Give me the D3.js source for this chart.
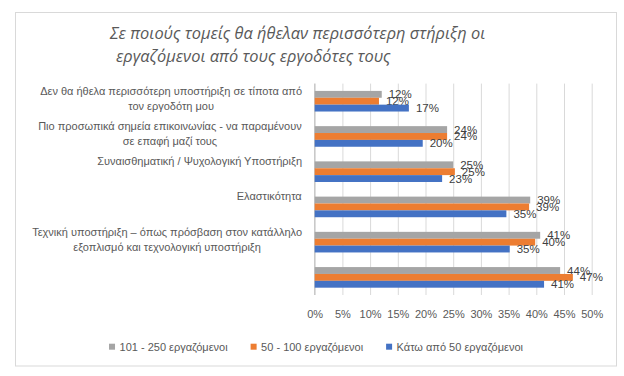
<!DOCTYPE html>
<html>
<head>
<meta charset="utf-8">
<script src="https://cdn.jsdelivr.net/npm/d3@7"></script>
<style>
  body { margin: 0; background: #fff; }
  text { font-family: "Liberation Sans", Arial, sans-serif; }
</style>
</head>
<body>
<svg width="624" height="376"></svg>
<script>
// categories, top to bottom (the last group has no label)
var categories = [
  ['Δεν θα ήθελα περισσότερη υποστήριξη σε τίποτα από', 'τον εργοδότη μου'],
  ['Πιο προσωπικά σημεία επικοινωνίας - να παραμένουν', 'σε επαφή μαζί τους'],
  ['Συναισθηματική / Ψυχολογική Υποστήριξη'],
  ['Ελαστικότητα'],
  ['Τεχνική υποστήριξη – όπως πρόσβαση στον κατάλληλο', 'εξοπλισμό και τεχνολογική υποστήριξη'],
  ['']
];
var seriesNames = ['101 - 250 εργαζόμενοι', '50 - 100 εργαζόμενοι', 'Κάτω από 50 εργαζόμενοι'];
var seriesColors = ['#a5a5a5', '#ed7d31', '#4472c4'];
// percent values per category, in series order
var large  = [12.1, 23.9, 25.0, 38.9, 40.7, 44.3];
var medium = [11.6, 23.9, 25.3, 38.7, 39.8, 46.6];
var small  = [17.0, 19.5, 23.0, 34.6, 35.2, 41.4];
var xTicks = [0, 5, 10, 15, 20, 25, 30, 35, 40, 45, 50];
var titleLines = ['Σε ποιούς τομείς θα ήθελαν περισσότερη στήριξη οι', 'εργαζόμενοι από τους εργοδότες τους'];

var values = [large, medium, small];
var svg = d3.select('svg');

svg.append('rect')
   .attr('x', 15.5).attr('y', 12.5)
   .attr('width', 601).attr('height', 353.5)
   .style('fill', 'white')
   .style('stroke', '#d9d9d9');

svg.selectAll('text.title')
   .data(titleLines)
   .enter()
   .append('text')
   .attr('class', 'title')
   .attr('x', function(d, i) { return i === 0 ? 110 : 116; })
   .attr('y', function(d, i) { return 39 + i * 23; })
   .style('font-family', '"Open Sans", sans-serif')
   .style('font-style', 'italic')
   .style('font-size', '16.4px')
   .style('fill', '#595959')
   .text(function(d) { return d; });

var plotTop = 83.6, plotBottom = 295;
var xScale = d3.scaleLinear().domain([0, 50]).range([314.7, 591.7]);
var yScale = d3.scaleBand()
               .domain(d3.range(categories.length))
               .range([plotTop, plotBottom])
               .paddingInner(0.415)
               .paddingOuter(0.2075);
var sScale = d3.scaleBand()
               .domain(d3.range(seriesNames.length))
               .range([0, yScale.bandwidth()]);

var xAxis = d3.axisBottom(xScale)
              .tickValues(xTicks)
              .tickSize(-(plotBottom - plotTop))
              .tickPadding(15)
              .tickFormat(function(d) { return d + '%'; });
var gx = svg.append('g')
            .attr('transform', 'translate(0,' + plotBottom + ')')
            .call(xAxis);
gx.select('.domain').remove();
gx.selectAll('line').style('stroke', '#d9d9d9');
gx.selectAll('text')
  .style('font-size', '11px')
  .style('fill', '#595959');

svg.append('line')
   .attr('x1', xScale(0)).attr('x2', xScale(0))
   .attr('y1', plotTop).attr('y2', plotBottom)
   .style('stroke', '#bfbfbf');

// category labels: block top sits a little above the group centre
svg.selectAll('g.cat')
   .data(categories)
   .enter()
   .append('g')
   .attr('class', 'cat')
   .each(function(lines, i) {
     var g = d3.select(this);
     var cy = yScale(i) + yScale.bandwidth() / 2;
     var t = g.append('text')
              .style('font-size', '11px')
              .style('fill', '#595959')
              .attr('text-anchor', 'middle');
     lines.forEach(function(l, j) {
       t.append('tspan').attr('x', 0).attr('y', cy - 17.5 + 11 + j * 15).text(l);
     });
     var w = t.node().getBBox().width;
     g.attr('transform', 'translate(' + (302 - w / 2) + ',0)');
   });

values.forEach(function(vals, s) {
  var g = svg.append('g').attr('class', 'series');
  g.selectAll('rect')
   .data(vals)
   .enter()
   .append('rect')
   .attr('x', xScale(0))
   .attr('y', function(d, i) { return yScale(i) + sScale(s); })
   .attr('width', function(d) { return xScale(d) - xScale(0); })
   .attr('height', sScale.bandwidth())
   .style('fill', seriesColors[s]);
  g.selectAll('text')
   .data(vals)
   .enter()
   .append('text')
   .attr('x', function(d) { return xScale(d) + 7; })
   .attr('y', function(d, i) { return yScale(i) + sScale(s) + sScale.bandwidth() / 2; })
   .attr('dy', '0.35em')
   .style('font-size', '11.5px')
   .style('fill', '#404040')
   .text(function(d) { return Math.round(d) + '%'; });
});

// legend, centred under the chart
var legend = svg.append('g').attr('transform', 'translate(0,346.7)');
var items = legend.selectAll('g')
  .data(seriesNames)
  .enter()
  .append('g');
items.append('rect')
     .attr('x', 0).attr('y', -3)
     .attr('width', 6).attr('height', 6)
     .style('fill', function(d, i) { return seriesColors[i]; });
items.append('text')
     .attr('x', 10.5).attr('dy', '0.35em')
     .style('font-size', '11px')
     .style('fill', '#595959')
     .text(function(d) { return d; });
var pos = 0, offs = [];
items.each(function() {
  offs.push(pos);
  pos += 10.5 + d3.select(this).select('text').node().getComputedTextLength() + 23;
});
var total = pos - 23;
items.attr('transform', function(d, i) { return 'translate(' + (316 - total / 2 + offs[i]) + ',0)'; });
</script>
</body>
</html>
